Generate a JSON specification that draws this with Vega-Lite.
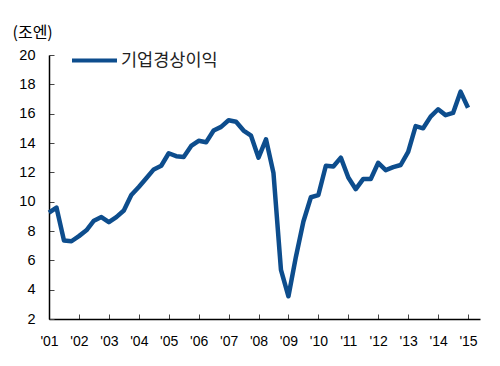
{
  "$schema": "https://vega.github.io/schema/vega-lite/v6.json",
  "width": 431,
  "height": 264,
  "autosize": "none",
  "padding": {"left": 49, "top": 55, "right": 20, "bottom": 47},
  "background": "white",
  "config": {"view": {"stroke": null}, "font": "Liberation Sans"},
  "data": {"values": [
    {"t": 2001.0, "v": 9.25}, {"t": 2001.25, "v": 9.6}, {"t": 2001.5, "v": 7.35}, {"t": 2001.75, "v": 7.3},
    {"t": 2002.0, "v": 7.65}, {"t": 2002.25, "v": 8.05}, {"t": 2002.5, "v": 8.7}, {"t": 2002.75, "v": 8.95},
    {"t": 2003.0, "v": 8.6}, {"t": 2003.25, "v": 8.95}, {"t": 2003.5, "v": 9.4}, {"t": 2003.75, "v": 10.45},
    {"t": 2004.0, "v": 11.0}, {"t": 2004.25, "v": 11.6}, {"t": 2004.5, "v": 12.2}, {"t": 2004.75, "v": 12.45},
    {"t": 2005.0, "v": 13.3}, {"t": 2005.25, "v": 13.1}, {"t": 2005.5, "v": 13.05}, {"t": 2005.75, "v": 13.8},
    {"t": 2006.0, "v": 14.15}, {"t": 2006.25, "v": 14.05}, {"t": 2006.5, "v": 14.85}, {"t": 2006.75, "v": 15.1},
    {"t": 2007.0, "v": 15.55}, {"t": 2007.25, "v": 15.45}, {"t": 2007.5, "v": 14.85}, {"t": 2007.75, "v": 14.5},
    {"t": 2008.0, "v": 13.0}, {"t": 2008.25, "v": 14.25}, {"t": 2008.5, "v": 11.95}, {"t": 2008.75, "v": 5.35},
    {"t": 2009.0, "v": 3.55}, {"t": 2009.25, "v": 6.25}, {"t": 2009.5, "v": 8.65}, {"t": 2009.75, "v": 10.3},
    {"t": 2010.0, "v": 10.45}, {"t": 2010.25, "v": 12.45}, {"t": 2010.5, "v": 12.4}, {"t": 2010.75, "v": 13.0},
    {"t": 2011.0, "v": 11.65}, {"t": 2011.25, "v": 10.85}, {"t": 2011.5, "v": 11.55}, {"t": 2011.75, "v": 11.55},
    {"t": 2012.0, "v": 12.65}, {"t": 2012.25, "v": 12.15}, {"t": 2012.5, "v": 12.35}, {"t": 2012.75, "v": 12.5},
    {"t": 2013.0, "v": 13.4}, {"t": 2013.25, "v": 15.15}, {"t": 2013.5, "v": 15.0}, {"t": 2013.75, "v": 15.8},
    {"t": 2014.0, "v": 16.3}, {"t": 2014.25, "v": 15.9}, {"t": 2014.5, "v": 16.05}, {"t": 2014.75, "v": 17.5},
    {"t": 2015.0, "v": 16.4}
  ]},
  "mark": {"type": "line", "strokeWidth": 4.5, "strokeJoin": "round"},
  "encoding": {
    "x": {
      "field": "t", "type": "quantitative",
      "scale": {"domain": [2001, 2015.4], "nice": false, "zero": false},
      "axis": {
        "values": [2001, 2002, 2003, 2004, 2005, 2006, 2007, 2008, 2009, 2010, 2011, 2012, 2013, 2014, 2015],
        "labelExpr": "\"'\" + slice(toString(datum.value), 2)",
        "title": null, "grid": false,
        "domainColor": "black", "domainWidth": 1.5,
        "tickColor": "#444", "tickSize": -5, "tickWidth": 1,
        "labelFontSize": 14, "labelColor": "black", "labelPadding": 20, "labelFlush": false
      }
    },
    "y": {
      "field": "v", "type": "quantitative",
      "scale": {"domain": [2, 20], "nice": false, "zero": false},
      "axis": {
        "values": [2, 4, 6, 8, 10, 12, 14, 16, 18, 20],
        "title": "(조엔)", "titleAngle": 0, "titleAlign": "left", "titleBaseline": "middle",
        "titleX": -37, "titleY": -23, "titleFontSize": 16, "titleFontWeight": "normal",
        "titleColor": "black", "titleFont": "Noto Sans CJK KR",
        "grid": false,
        "domainColor": "black", "domainWidth": 1.5,
        "tickColor": "#444", "tickSize": -5, "tickWidth": 1,
        "labelFontSize": 14.5, "labelColor": "black", "labelPadding": 19
      }
    },
    "color": {
      "datum": "기업경상이익",
      "scale": {"range": ["#0D4D8D"]},
      "legend": {
        "title": null, "orient": "none", "legendX": 21, "legendY": -19,
        "symbolType": "stroke", "symbolSize": 2025, "symbolStrokeWidth": 4,
        "labelFont": "Noto Sans CJK KR", "labelFontSize": 17.5, "labelColor": "#222", "labelOffset": 2
      }
    }
  }
}
